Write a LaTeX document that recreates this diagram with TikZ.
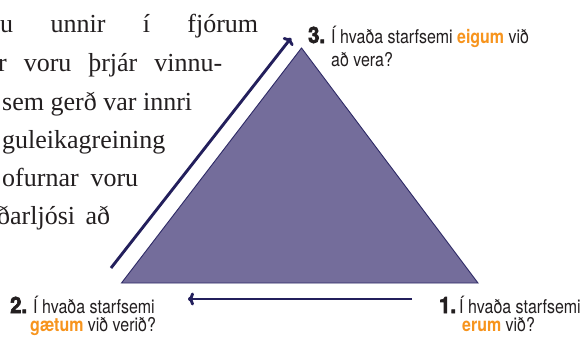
\documentclass[tikz,border=0pt]{standalone}
\usepackage{fontspec}
\setmainfont{Liberation Serif}
\newfontfamily\labfont{TeX Gyre Heros}[FakeStretch=0.84]
\newfontfamily\numfont{TeX Gyre Heros}[FakeStretch=0.9, FakeBold=3]
\usetikzlibrary{arrows.meta}
\definecolor{trifill}{HTML}{746D9B}
\definecolor{tristroke}{HTML}{2E2A66}
\definecolor{arrowc}{HTML}{231F5C}
\definecolor{orng}{HTML}{F7941D}
\definecolor{txt}{HTML}{231F20}
\tikzset{
  serif/.style={anchor=base west, inner sep=0pt, text=txt, font=\fontsize{26}{30}\selectfont},
  lab/.style={anchor=base west, inner sep=0pt, text=txt, font=\labfont\fontsize{19}{22}\selectfont},
  num/.style={anchor=base west, inner sep=0pt, text=txt, font=\numfont\bfseries\fontsize{22.5}{24}\selectfont},
  flow/.style={draw=arrowc, line width=2.9pt, -{To[length=6pt,width=13pt]}},
  tri/.style={fill=trifill, draw=tristroke, line width=0.9pt, line join=miter}
}
\newcommand{\hl}[1]{\textcolor{orng}{\bfseries #1}}
\begin{document}
\begin{tikzpicture}[x=1pt,y=-1pt]
\useasboundingbox (0,0) rectangle (584,341);
\fill[white] (0,0) rectangle (584,341);
% left running text (clipped)
\begin{scope}
\clip (0,0) rectangle (584,341);
\node[serif] (t1) at (0,32) {\makebox[258pt]{u\hfill unnir\hfill í\hfill fjórum}};
\node[serif] (t2) at (-2,71) {\makebox[224pt]{r\hfill voru\hfill þrjár\hfill vinnu-}};
\node[serif] (t3) at (2,110) {\makebox[190pt]{sem\hfill gerð\hfill var\hfill innri}};
\node[serif] (t4) at (2,148) {guleikagreining};
\node[serif] (t5) at (2,186) {\makebox[136pt]{ofurnar\hfill voru}};
\node[serif] (t6) at (-3,224) {\makebox[113pt]{ðarljósi\hfill að}};
\end{scope}
% triangle
\coordinate (A) at (301.5,48);
\coordinate (B) at (121.5,283);
\coordinate (C) at (478,283);
\filldraw[tri] (A) -- (B) -- (C) -- cycle;
% arrows
\coordinate (d1) at (111,268);
\coordinate (d2) at (291,38);
\draw[flow] (d1) -- (d2);
\coordinate (h1) at (412,299);
\coordinate (h2) at (188,299);
\draw[flow] (h1) -- (h2);
% label 3
\node[num] (n3) at (308,43) {3.};
\node[lab] (l3a) at (331,43) {Í hvaða starfsemi \hl{eigum} við};
\node[lab] (l3b) at (331,66) {að vera?};
% label 2
\node[num] (n2) at (10,313) {2.};
\node[lab] (l2a) at (33,313) {Í hvaða starfsemi};
\node[lab] (l2b) at (30,331) {\hl{gætum} við verið?};
% label 1
\node[num] (n1) at (439,313) {1.};
\node[lab] (l1a) at (459,313) {Í hvaða starfsemi};
\node[lab] (l1b) at (462,331) {\hl{erum} við?};
\end{tikzpicture}
\end{document}
